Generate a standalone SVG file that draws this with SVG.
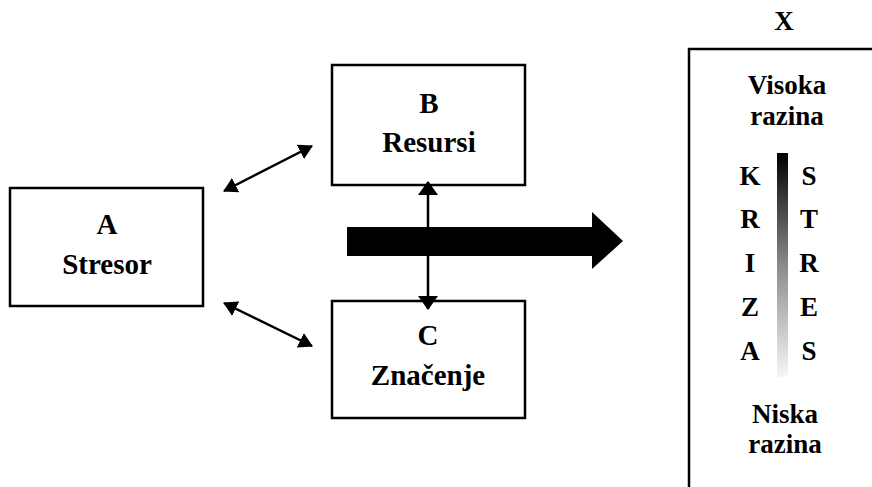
<svg xmlns="http://www.w3.org/2000/svg" width="872" height="487" viewBox="0 0 872 487">
<style>
.box{fill:#fff;stroke:#000;stroke-width:2.5}
.t{font-family:'Liberation Serif','Times New Roman',Tinos,'Nimbus Roman','DejaVu Serif',serif;font-weight:bold;font-size:27px;fill:#000;text-anchor:middle}
.tb{font-size:29px}
.ln{stroke:#000;stroke-width:2.5;fill:none}
</style>
<defs>
<marker id="ah" viewBox="0 0 14 16" refX="13" refY="8" markerWidth="14" markerHeight="16" markerUnits="userSpaceOnUse" orient="auto-start-reverse">
<path d="M0,0 L14,8 L0,16 z" fill="#000"/>
</marker>
<marker id="ahv" viewBox="0 0 14 20" refX="13" refY="10" markerWidth="14" markerHeight="20" markerUnits="userSpaceOnUse" orient="auto-start-reverse">
<path d="M0,0 L14,10 L0,20 z" fill="#000"/>
</marker>
<linearGradient id="grad" x1="0" y1="0" x2="0" y2="1">
<stop offset="0" stop-color="#000"/>
<stop offset="0.5" stop-color="#8a8a8a"/>
<stop offset="1" stop-color="#f7f7f7"/>
</linearGradient>
</defs>
<g id="nodeA">
<rect class="box" x="10" y="188" width="193" height="118"/>
<text class="t tb" x="107" y="234">A</text>
<text class="t tb" x="107" y="274">Stresor</text>
</g>
<g id="nodeB">
<rect class="box" x="332" y="65" width="193" height="120"/>
<text class="t tb" x="429" y="113">B</text>
<text class="t tb" x="429" y="152">Resursi</text>
</g>
<g id="nodeC">
<rect class="box" x="332" y="301" width="193" height="117"/>
<text class="t tb" x="428" y="345">C</text>
<text class="t tb" x="428" y="385">Značenje</text>
</g>
<g id="nodeX">
<text class="t" x="784" y="30">X</text>
<rect class="box" x="689" y="49" width="220" height="480"/>
<text class="t" x="787" y="94">Visoka</text>
<text class="t" x="787" y="125">razina</text>
<rect x="777" y="153" width="11" height="224" fill="url(#grad)"/>
<text class="t" x="750" y="185">K</text>
<text class="t" x="750" y="228">R</text>
<text class="t" x="750" y="272">I</text>
<text class="t" x="750" y="316">Z</text>
<text class="t" x="750" y="360">A</text>
<text class="t" x="809" y="185">S</text>
<text class="t" x="809" y="228">T</text>
<text class="t" x="809" y="272">R</text>
<text class="t" x="809" y="316">E</text>
<text class="t" x="809" y="360">S</text>
<text class="t" x="785" y="423">Niska</text>
<text class="t" x="785" y="453">razina</text>
</g>
<g id="connectors">
<polygon points="347,227 592,227 592,212 623,241 592,269 592,256 347,256" fill="#000"/>
<line class="ln" x1="224" y1="191" x2="312" y2="146" marker-start="url(#ah)" marker-end="url(#ah)"/>
<line class="ln" x1="224" y1="303" x2="312" y2="346" marker-start="url(#ah)" marker-end="url(#ah)"/>
<line class="ln" x1="428" y1="182" x2="428" y2="309" marker-start="url(#ahv)" marker-end="url(#ahv)"/>
</g>
</svg>
